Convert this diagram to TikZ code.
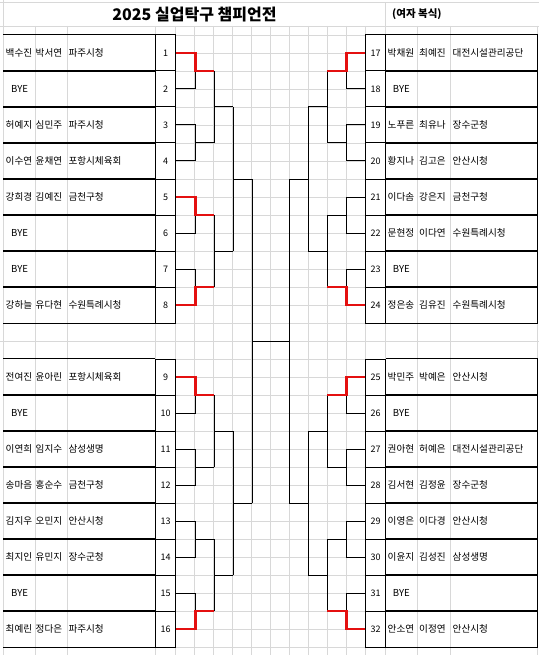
\documentclass[tikz,border=0pt]{standalone}
\usepackage{fontspec}
\setmainfont{Noto Sans CJK KR}
\usetikzlibrary{calc}
\definecolor{gridgray}{RGB}{216,216,216}
\definecolor{winred}{RGB}{228,16,16}
\tikzset{
  gridline/.style={gridgray, line width=0.8pt},
  boxline/.style={black, line width=1pt},
  bline/.style={black, line width=1pt},
  winline/.style={winred, line width=2.8pt, line join=miter},
  numcell/.style={draw, line width=1pt, minimum width=20pt, minimum height=36pt, inner sep=0pt, font=\fontsize{9}{9}\selectfont},
  namecell/.style={anchor=west, inner sep=0pt, font=\fontsize{9.6}{9.6}\selectfont},
}
\begin{document}
\begin{tikzpicture}[x=1pt, y=-1pt]
\useasboundingbox (0,0) rectangle (539,655);
% sheet grid
\draw[gridline] (0,2.7) -- (539,2.7);
\draw[gridline] (3.3,0) -- (3.3,655);
\draw[gridline] (385.7,2.7) -- (385.7,26);
\draw[gridline] (0,26) -- (539,26);
\draw[gridline] (0,341) -- (539,341);
\foreach \x in {35,67,155.7,385.7,417.7,450,537.7}
  \draw[gridline] (\x,26) -- (\x,655);
\foreach \k in {0,...,10}
  \draw[gridline] (175.7+19*\k,26) -- (175.7+19*\k,655);
\foreach \k in {0,...,34}
  \draw[gridline] (175.7,35+18*\k) -- (365.7,35+18*\k);

% title
\node[font=\bfseries\fontsize{16}{16}\selectfont] (title) at (194.5,14.5) {2025 실업탁구 챔피언전};
\node[anchor=west, inner sep=0pt, font=\bfseries\fontsize{10.5}{10.5}\selectfont] (sub) at (392,14.5) {(여자 복식)};

% number cells
\foreach \i in {1,...,16}{
  \pgfmathsetmacro\yy{\i<9 ? 53+36*(\i-1) : 377+36*(\i-9)}
  \pgfmathtruncatemacro\j{\i+16}
  \node[numcell] (p\i) at (165.7,\yy) {\i};
  \node[numcell] (p\j) at (375.7,\yy) {\j};
  \draw[boxline] (p\i.north west) -- (3.3,0 |- p\i.north west);
  \draw[boxline] (p\i.south west) -- (3.3,0 |- p\i.south west);
  \draw[boxline] (p\j.north east) -- (537.7,0 |- p\j.north east);
  \draw[boxline] (p\j.south east) -- (537.7,0 |- p\j.south east);
}
\draw[boxline] (537.7,0 |- p17.north) -- (537.7,0 |- p24.south);
\draw[boxline] (537.7,0 |- p25.north) -- (537.7,0 |- p32.south);

% players
\foreach \i/\na/\nb/\tm in {1/백수진/박서연/파주시청, 3/허예지/심민주/파주시청,
    4/이수연/윤채연/포항시체육회, 5/강희경/김예진/금천구청, 8/강하늘/유다현/수원특례시청,
    9/전여진/윤아린/포항시체육회, 11/이연희/임지수/삼성생명, 12/송마음/홍순수/금천구청,
    13/김지우/오민지/안산시청, 14/최지인/유민지/장수군청, 16/최예린/정다은/파주시청}{
  \node[namecell] (na\i) at (5.5,0 |- p\i) {\na};
  \node[namecell] (nb\i) at (35.5,0 |- p\i) {\nb};
  \node[namecell] (tm\i) at (68.3,0 |- p\i) {\tm};
}
\foreach \i/\na/\nb/\tm in {17/박채원/최예진/대전시설관리공단, 19/노푸른/최유나/장수군청,
    20/황지나/김고은/안산시청, 21/이다솜/강은지/금천구청, 22/문현정/이다연/수원특례시청,
    24/정은송/김유진/수원특례시청, 25/박민주/박예은/안산시청, 27/권아현/허예은/대전시설관리공단,
    28/김서현/김정윤/장수군청, 29/이영은/이다경/안산시청, 30/이윤지/김성진/삼성생명,
    32/안소연/이정연/안산시청}{
  \node[namecell] (na\i) at (387.5,0 |- p\i) {\na};
  \node[namecell] (nb\i) at (419,0 |- p\i) {\nb};
  \node[namecell] (tm\i) at (452.5,0 |- p\i) {\tm};
}
\foreach \i in {2,6,7,10,15}
  \node[namecell] (bye\i) at (11,0 |- p\i) {BYE};
\foreach \i in {18,23,26,31}
  \node[namecell] (bye\i) at (392.7,0 |- p\i) {BYE};

% first round
\foreach \a/\b/\m in {1/2/1,3/4/2,5/6/3,7/8/4,9/10/5,11/12/6,13/14/7,15/16/8}{
  \draw[bline] (p\a.east) -- ++(19,0) |- (p\b.east);
  \coordinate (ra\m) at ($(p\a.east)!.5!(p\b.east)+(38,0)$);
  \draw[bline] (ra\m) -- ++(-19,0);
}
\foreach \a/\b/\m in {17/18/1,19/20/2,21/22/3,23/24/4,25/26/5,27/28/6,29/30/7,31/32/8}{
  \draw[bline] (p\a.west) -- ++(-19,0) |- (p\b.west);
  \coordinate (sa\m) at ($(p\a.west)!.5!(p\b.west)-(38,0)$);
  \draw[bline] (sa\m) -- ++(19,0);
}
% second round
\foreach \a/\b/\m in {1/2/1,3/4/2,5/6/3,7/8/4}{
  \draw[bline] (ra\a) -- (ra\b);
  \coordinate (rb\m) at ($(ra\a)!.5!(ra\b)+(19,0)$);
  \draw[bline] (rb\m) -- ++(-19,0);
  \draw[bline] (sa\a) -- (sa\b);
  \coordinate (sb\m) at ($(sa\a)!.5!(sa\b)-(19,0)$);
  \draw[bline] (sb\m) -- ++(19,0);
}
% quarter finals
\foreach \a/\b/\m in {1/2/1,3/4/2}{
  \draw[bline] (rb\a) -- (rb\b);
  \coordinate (rc\m) at ($(rb\a)!.5!(rb\b)+(19,0)$);
  \draw[bline] (rc\m) -- ++(-19,0);
  \draw[bline] (sb\a) -- (sb\b);
  \coordinate (sc\m) at ($(sb\a)!.5!(sb\b)-(19,0)$);
  \draw[bline] (sc\m) -- ++(19,0);
}
% semis and final
\draw[bline] (rc1) -- (rc2);
\draw[bline] (sc1) -- (sc2);
\draw[bline] ($(rc1)!.5!(rc2)$) -- ($(sc1)!.5!(sc2)$);

% winners
\foreach \p/\m in {1/1,5/3,8/4,9/5,16/8}
  \draw[winline] (p\p.east) -- ++(19,0) |- (ra\m);
\foreach \p/\m in {17/1,24/4,25/5,32/8}
  \draw[winline] (p\p.west) -- ++(-19,0) |- (sa\m);
\end{tikzpicture}
\end{document}
